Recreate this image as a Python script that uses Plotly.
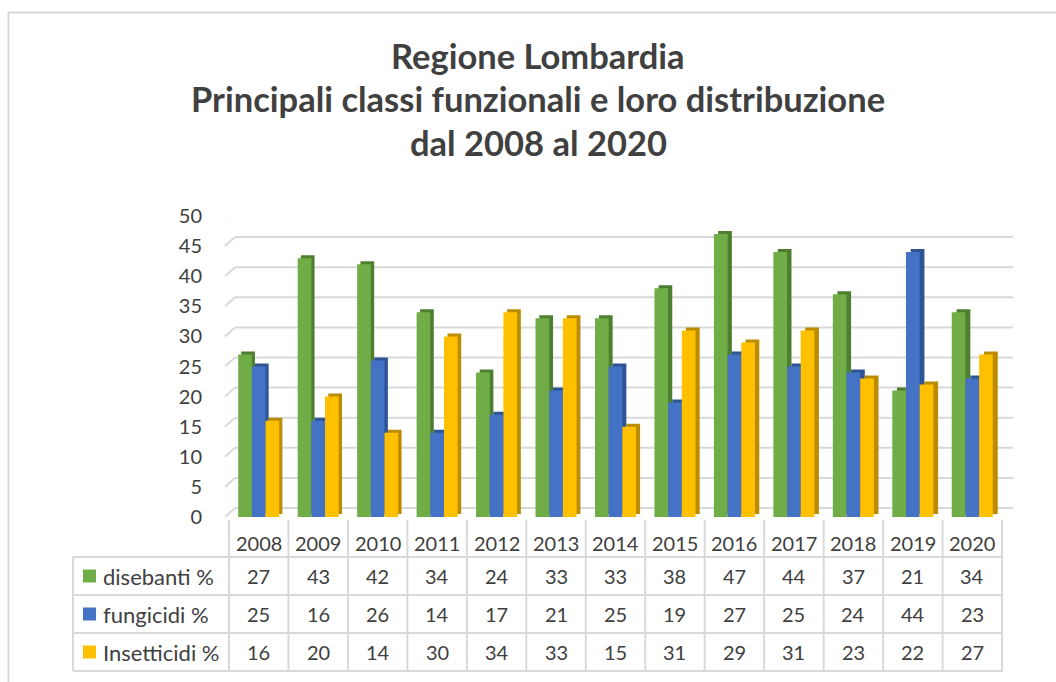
import plotly.graph_objects as go

# ---------------- data ----------------
years = ["2008", "2009", "2010", "2011", "2012", "2013", "2014",
         "2015", "2016", "2017", "2018", "2019", "2020"]
series_names = ["disebanti %", "fungicidi %", "Insetticidi %"]
disebanti = [27, 43, 42, 34, 24, 33, 33, 38, 47, 44, 37, 21, 34]
fungicidi = [25, 16, 26, 14, 17, 21, 25, 19, 27, 25, 24, 44, 23]
insetticidi = [16, 20, 14, 30, 34, 33, 15, 31, 29, 31, 23, 22, 27]
series_values = [disebanti, fungicidi, insetticidi]
y_ticks = list(range(0, 55, 5))
title_lines = ["Regione Lombardia",
               "Principali classi funzionali e loro distribuzione",
               "dal 2008 al 2020"]

# ---------------- style ----------------
W, H = 1056, 682
front_cols = ["#70AD47", "#4472C4", "#FFC000"]
side_cols = ["#4E7F30", "#2D5596", "#BC8C00"]
grid_col = "#D9D9D9"
text_col = "#404040"
FONT = "Lato"


def px(x):
    return x / W


def py(y):
    return 1 - y / H


# plot geometry (pixels)
X0, X1 = 228, 1003          # front category span
YB, YT = 517, 216           # front 0 / 50
DX, DY = 4, 3               # bar depth
GX, GY = 10, 9              # floor depth (gridlines)

fig = go.Figure()

# shadow (side/top faces) bars on x/y, front faces on x2/y2
for name, vals, sc in zip(series_names, series_values, side_cols):
    fig.add_trace(go.Bar(x=years, y=vals, name=name, marker_color=sc,
                         marker_line_width=0, xaxis="x", yaxis="y",
                         showlegend=False, hoverinfo="skip"))
for name, vals, fc in zip(series_names, series_values, front_cols):
    fig.add_trace(go.Bar(x=years, y=vals, name=name, marker_color=fc,
                         marker_line_width=0, xaxis="x2", yaxis="y2",
                         showlegend=False))

shapes = []
annotations = []

# outer chart border (cropped on right/bottom)
shapes.append(dict(type="rect", xref="paper", yref="paper",
                   x0=px(8.5), x1=px(1070), y0=py(12.5), y1=py(700),
                   line=dict(color=grid_col, width=2), fillcolor="rgba(0,0,0,0)",
                   layer="below"))

# back gridlines + left diagonals (floor / wall look)
for v in y_ticks:
    shapes.append(dict(type="line", xref="paper", yref="y2",
                       ysizemode="pixel", yanchor=v, y0=GY, y1=GY,
                       x0=px(X0 + GX - 3), x1=px(X1 + GX),
                       line=dict(color=grid_col, width=2), layer="below"))
    shapes.append(dict(type="line", xref="paper", yref="y2",
                       xsizemode="pixel", ysizemode="pixel",
                       xanchor=px(X0), yanchor=v,
                       x0=-3, x1=GX - 3, y0=0, y1=GY,
                       line=dict(color=grid_col, width=2), layer="below"))

# ---------------- data table ----------------
T_TOP = 520
ROW_LINES = [557, 595, 633, 671]
TBL_LEFT = 73
n = len(years)
for i in range(n + 1):
    shapes.append(dict(type="line", xref="x2", yref="paper",
                       x0=i - 0.5, x1=i - 0.5, y0=py(T_TOP), y1=py(ROW_LINES[-1]),
                       line=dict(color=grid_col, width=2)))
shapes.append(dict(type="line", xref="paper", yref="paper",
                   x0=px(TBL_LEFT), x1=px(TBL_LEFT),
                   y0=py(ROW_LINES[0]), y1=py(ROW_LINES[-1]),
                   line=dict(color=grid_col, width=2)))
for yl in ROW_LINES:
    shapes.append(dict(type="line", xref="paper", yref="paper",
                       x0=px(TBL_LEFT), x1=px(X1), y0=py(yl), y1=py(yl),
                       line=dict(color=grid_col, width=2)))

for i, yr in enumerate(years):
    annotations.append(dict(x=i, y=py(543), xref="x2", yref="paper",
                            text=yr, showarrow=False, xanchor="center",
                            yanchor="middle",
                            font=dict(family=FONT, size=20, color=text_col)))
row_centers = [576, 614, 652]
for r, (name, vals, fc) in enumerate(zip(series_names, series_values, front_cols)):
    yc = row_centers[r]
    shapes.append(dict(type="rect", xref="paper", yref="paper",
                       x0=px(83), x1=px(96), y0=py(yc - 6.5), y1=py(yc + 6.5),
                       fillcolor=fc, line=dict(width=0)))
    annotations.append(dict(x=px(101), y=py(yc), xref="paper", yref="paper",
                            text=name, showarrow=False, xanchor="left",
                            yanchor="middle",
                            font=dict(family=FONT, size=22, color=text_col)))
    for i, v in enumerate(vals):
        annotations.append(dict(x=i, y=py(yc), xref="x2", yref="paper",
                                text=str(v), showarrow=False, xanchor="center",
                                yanchor="middle",
                                font=dict(family=FONT, size=20, color=text_col)))

for line, yc in zip(title_lines, [55, 99, 142]):
    annotations.append(dict(x=px(538), y=py(yc), xref="paper", yref="paper",
                            text="<b>" + line + "</b>", showarrow=False,
                            xanchor="center", yanchor="middle",
                            font=dict(family=FONT, size=34.5, color=text_col)))

common_x = dict(showgrid=False, zeroline=False, showline=False, automargin=False,
                showticklabels=False, ticks="", fixedrange=True)
common_y = dict(range=[0, 50], showgrid=False, zeroline=False, showline=False,
                automargin=False, ticks="", fixedrange=True)

fig.update_layout(
    width=W, height=H, autosize=False,
    margin=dict(l=0, r=0, t=0, b=0, pad=0, autoexpand=False),
    paper_bgcolor="white", plot_bgcolor="rgba(0,0,0,0)",
    barmode="group", bargap=0.31, bargroupgap=0,
    showlegend=False,
    xaxis=dict(domain=[px(X0 + DX), px(X1 + DX)], anchor="y", **common_x),
    yaxis=dict(domain=[py(YB - DY), py(YT - DY)], anchor="x",
               showticklabels=False, **common_y),
    xaxis2=dict(domain=[px(X0), px(X1)], anchor="y2", **common_x),
    yaxis2=dict(domain=[py(YB), py(YT)], anchor="x2", showticklabels=True,
                tickvals=y_ticks, ticklabelstandoff=25,
                tickfont=dict(family=FONT, size=20, color=text_col),
                **common_y),
    shapes=shapes,
    annotations=annotations,
)

fig.write_html("out.html", config={"displayModeBar": False},
               post_script="document.body.style.margin='0px';"
                           "document.body.style.overflow='hidden';")
